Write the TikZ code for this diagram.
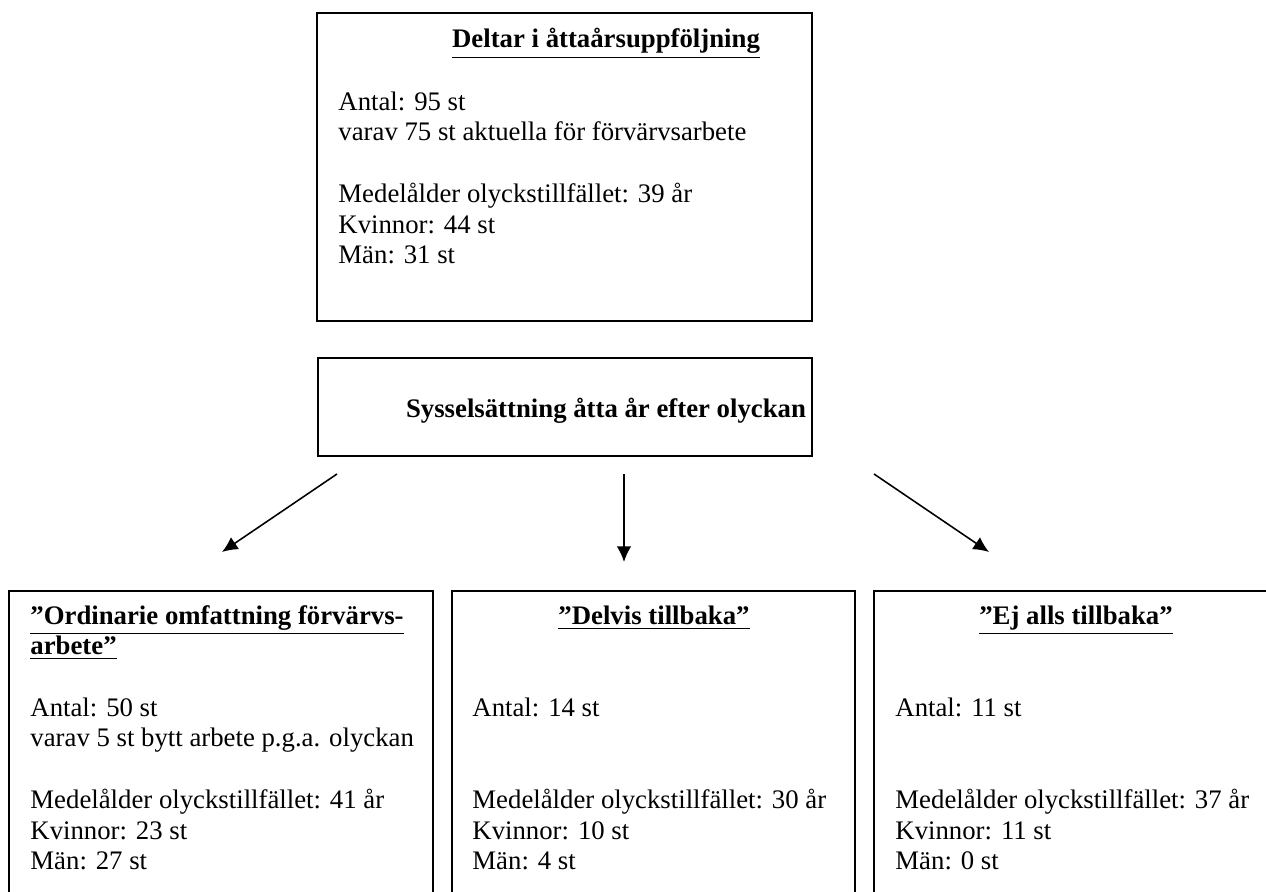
\documentclass[tikz,border=0pt]{standalone}
\usepackage{fontspec}
\setmainfont{Liberation Serif}
\usetikzlibrary{arrows.meta}

\begin{document}
\begin{tikzpicture}[
    x=0.4484pt, y=-0.4484pt,
    font=\fontsize{12}{13.8}\selectfont,
    box/.style={rectangle, draw=black, line width=0.9pt, inner sep=0pt},
    body/.style={inner sep=0pt, align=left, anchor=base west},
    head/.style={inner sep=0pt, anchor=base, font=\fontsize{12}{13.8}\selectfont\bfseries},
    arrow/.style={-{Latex[length=7pt,width=6.5pt]}, line width=0.7pt}
]
\useasboundingbox (0,0) rectangle (1266,892);
\clip (0,0) rectangle (1266,892);

% Boxes
\node[box, minimum width=495*0.4484pt, minimum height=308*0.4484pt] (deltar) at (564.5,167) {};
\node[box, minimum width=494*0.4484pt, minimum height=98*0.4484pt] (syssel) at (565,407) {};
\node[box, minimum width=424*0.4484pt, minimum height=380*0.4484pt] (ordinarie) at (221,781) {};
\node[box, minimum width=403*0.4484pt, minimum height=380*0.4484pt] (delvis) at (653.5,781) {};
\node[box, minimum width=420*0.4484pt, minimum height=380*0.4484pt] (ejalls) at (1084,781) {};

% Top box text (anchored on the last line)
\node[head] (deltar_head) at (606,48) {\underline{Deltar i åttaårsuppföljning}};
\node[body] (deltar_body) at (338,264) {Antal: 95 st\\
    varav 75 st aktuella för förvärvsarbete\\[13.8pt]
    Medelålder olyckstillfället: 39 år\\
    Kvinnor: 44 st\\
    Män: 31 st};

% Middle box text
\node[head] (syssel_head) at (606,418) {Sysselsättning åtta år efter olyckan};

% Bottom box texts
\node[head, anchor=base west, align=left] (ordinarie_head) at (30,655)
    {\underline{”Ordinarie omfattning förvärvs-}\\ \underline{arbete”}};
\node[body] (ordinarie_body) at (30,870) {Antal: 50 st\\
    varav 5 st bytt arbete p.g.a. olyckan\\[13.8pt]
    Medelålder olyckstillfället: 41 år\\
    Kvinnor: 23 st\\
    Män: 27 st};

\node[head] (delvis_head) at (654,625) {\underline{”Delvis tillbaka”}};
\node[body] (delvis_body) at (472,870) {Antal: 14 st\\[27.6pt]
    Medelålder olyckstillfället: 30 år\\
    Kvinnor: 10 st\\
    Män: 4 st};

\node[head] (ejalls_head) at (1076,625) {\underline{”Ej alls tillbaka”}};
\node[body] (ejalls_body) at (895,870) {Antal: 11 st\\[27.6pt]
    Medelålder olyckstillfället: 37 år\\
    Kvinnor: 11 st\\
    Män: 0 st};

% Arrows
\coordinate (left_from) at (337,474);
\coordinate (left_to) at (222,552);
\coordinate (mid_from) at (624,474);
\coordinate (mid_to) at (624,562);
\coordinate (right_from) at (874,474);
\coordinate (right_to) at (989,552);
\draw[arrow] (left_from) -- (left_to);
\draw[arrow] (mid_from) -- (mid_to);
\draw[arrow] (right_from) -- (right_to);

\end{tikzpicture}
\end{document}
